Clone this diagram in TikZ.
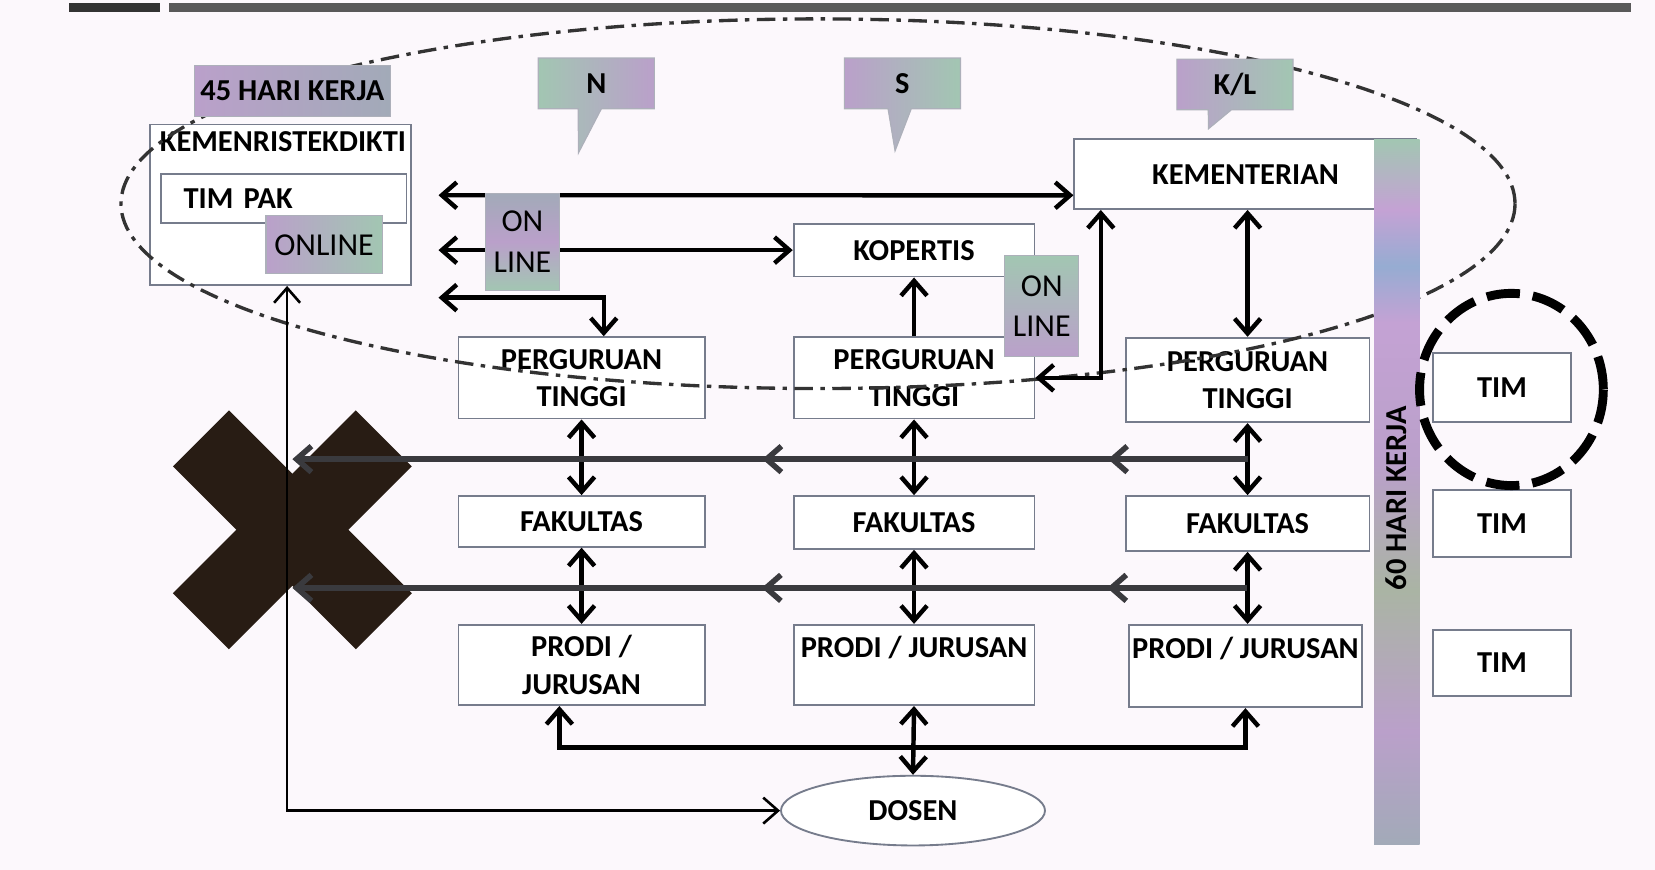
\documentclass[tikz,border=0pt]{standalone}
\usepackage{fontspec}
\setmainfont{Carlito}
\usetikzlibrary{arrows.meta,shapes.callouts,shapes.geometric,decorations.markings,calc}

\definecolor{paper}{RGB}{252,248,252}
\definecolor{edgegray}{RGB}{118,124,140}
\definecolor{tagpurple}{RGB}{186,160,202}
\definecolor{taggreen}{RGB}{162,198,178}
\definecolor{taggray}{RGB}{162,170,184}
\definecolor{barblue}{RGB}{150,172,210}
\definecolor{barpink}{RGB}{196,162,212}
\definecolor{barsage}{RGB}{170,180,164}
\definecolor{crossdark}{RGB}{40,28,20}
\definecolor{linkgray}{RGB}{58,58,62}

\pgfdeclareverticalshading{barshade}{100bp}{color(0bp)=(taggray); color(25bp)=(taggray); color(33bp)=(tagpurple); color(43bp)=(barsage); color(52bp)=(tagpurple); color(62bp)=(barpink); color(66bp)=(barblue); color(70bp)=(barpink); color(75bp)=(taggreen); color(100bp)=(taggreen)}

\newcommand\boxfont{\fontsize{8.2}{10}\selectfont\bfseries}
\newcommand\tagfont{\fontsize{8.6}{11}\selectfont}

\begin{document}
\begin{tikzpicture}[
    x=0.01cm, y=-0.01cm,
    >={Straight Barb[length=4pt,width=7pt]},
    box/.style={
        draw=edgegray,
        line width=0.5pt,
        fill=white,
        font=\boxfont,
        align=center,
        inner sep=0pt
    },
    tag/.style={
        draw=edgegray!60,
        line width=0.3pt,
        font=\tagfont,
        align=center,
        inner sep=0pt
    },
    callbox/.style={
        rectangle callout,
        draw=edgegray!60,
        line width=0.3pt,
        font=\boxfont,
        minimum width=1.1cm,
        minimum height=0.48cm,
        callout pointer width=0.22cm
    },
    crossarm/.style={fill=crossdark, minimum width=2.45cm, minimum height=0.75cm, inner sep=0pt},
    link/.style={line width=1.2pt},
    thinlink/.style={line width=0.7pt},
    backlink/.style={
        linkgray,
        line width=1.5pt,
        ->,
        postaction={decorate},
        decoration={markings,
            mark=at position 0.146 with {\arrow{>}},
            mark=at position 0.508 with {\arrow{>}}}
    }
]

\fill[paper] (0,0) rectangle (1568,824);
\useasboundingbox (0,0) rectangle (1568,824);
\fill[black!80] (65,3) rectangle (152,11);
\fill[black!65] (160,3) rectangle (1545,11);

\node[crossarm, rotate=45] (armA) at (277,502) {};
\node[crossarm, rotate=-45] (armB) at (277,502) {};
\coordinate (xmark) at (277,502);

\node[box, minimum width=2.47cm, minimum height=1.52cm] (kemen) at (266,194) {};
\node[font=\boxfont, inner sep=0pt] (kementitle) at (268,134) {KEMENRISTEKDIKTI};
\node[box, minimum width=2.32cm, minimum height=0.47cm, text width=1.9cm, align=left] (timpak) at (269,188) {TIM PAK};

\node[box, minimum width=3.24cm, minimum height=0.66cm] (kementerian) at (1180,165) {KEMENTERIAN};
\node[box, minimum width=2.28cm, minimum height=0.50cm] (kopertis) at (866,237) {KOPERTIS};

\node[box, minimum width=2.33cm, minimum height=0.77cm] (pt1) at (551,358) {PERGURUAN\\TINGGI};
\node[box, minimum width=2.28cm, minimum height=0.77cm] (pt2) at (866,358) {PERGURUAN\\TINGGI};
\node[box, minimum width=2.31cm, minimum height=0.80cm] (pt3) at (1182,360) {PERGURUAN\\TINGGI};

\node[box, minimum width=2.33cm, minimum height=0.48cm] (fak1) at (551,494) {FAKULTAS};
\node[box, minimum width=2.28cm, minimum height=0.50cm] (fak2) at (866,495) {FAKULTAS};
\node[box, minimum width=2.31cm, minimum height=0.52cm] (fak3) at (1182,496) {FAKULTAS};

\node[box, minimum width=2.33cm, minimum height=0.76cm] (prodi1) at (551,630) {PRODI /\\JURUSAN};
\node[box, minimum width=2.28cm, minimum height=0.76cm] (prodi2) at (866,630) {PRODI / JURUSAN\\ \mbox{}};
\node[box, minimum width=2.20cm, minimum height=0.78cm] (prodi3) at (1180,631) {PRODI / JURUSAN\\ \mbox{}};

\node[box, minimum width=1.30cm, minimum height=0.65cm] (tim1) at (1423,367) {TIM};
\node[box, minimum width=1.30cm, minimum height=0.63cm] (tim2) at (1423,496) {TIM};
\node[box, minimum width=1.30cm, minimum height=0.63cm] (tim3) at (1423,628) {TIM};

\node[box, ellipse, minimum width=2.5cm, minimum height=0.66cm] (dosen) at (865,768) {DOSEN};

\draw[black!80, line width=0.9pt, dash pattern=on 5pt off 2pt on 1.2pt off 2pt]
    (775,193) ellipse [x radius=6.6cm, y radius=1.75cm];

\draw[link,<->] ([shift={(25,-9)}]kemen.east) -- ([yshift=-0.2cm]kementerian.west);
\draw[link,<->] ([shift={(25,43)}]kemen.east) -- (kopertis.west);
\draw[link,<->] ([shift={(25,88)}]kemen.east) -| ([xshift=0.21cm]pt1.north);
\draw[link,->] (pt2.north) -- (kopertis.south);
\draw[link,<->] (pt2.east) -| ([xshift=-1.37cm]kementerian.south);
\draw[link,<->] (pt3.north |- kementerian.south) -- (pt3.north);

\path[link,<->]
    (pt1) edge (fak1)
    (fak1) edge (prodi1)
    (pt2) edge (fak2)
    (fak2) edge (prodi2)
    (pt3) edge (fak3)
    (fak3.south) edge (fak3.south |- prodi3.north);

\coordinate (row1) at ($(pt3.south)!0.5!(fak3.north)$);
\coordinate (row2) at ($(fak3.south)!0.5!(prodi3.north)$);
\draw[backlink] (row1) -- (row1 -| xmark);
\draw[backlink] (row2) -- (row2 -| xmark);

\draw[thinlink,<->] ([xshift=0.06cm]kemen.south) |- (dosen.west);

\coordinate (bus) at (866,708);
\draw[link,<->] ([xshift=-0.21cm]prodi1.south) |- (bus) -| (prodi3.south);
\draw[link,<->] (prodi2.south) -- (dosen.north);

\node[tag, minimum width=0.70cm, minimum height=0.92cm, top color=taggray, bottom color=taggreen, middle color=tagpurple] (online1) at (495,229) {ON\\LINE};
\node[tag, minimum width=0.70cm, minimum height=0.95cm, top color=taggreen, bottom color=tagpurple] (online2) at (987,290) {ON\\LINE};
\node[tag, minimum width=1.10cm, minimum height=0.55cm, left color=tagpurple, right color=taggreen] (online0) at (307,232) {ONLINE};
\node[tag, font=\boxfont, minimum width=1.85cm, minimum height=0.48cm, left color=tagpurple, right color=taggray] (hari45) at (277,86) {45 HARI KERJA};

\node[callbox, left color=taggreen, right color=tagpurple, callout absolute pointer={(548,145)}] (calln) at (565,79) {N};
\node[callbox, left color=tagpurple, right color=taggreen, callout absolute pointer={(848,143)}] (calls) at (855,79) {S};
\node[callbox, left color=tagpurple, right color=taggreen, callout absolute pointer={(1145,122)}] (callkl) at (1170,80) {K/L};

\shade[shading=barshade] (1302,132) rectangle (1345,800);
\node[font=\boxfont, rotate=90, inner sep=0pt] (hari60) at (1323,472) {60 HARI KERJA};

\draw[line width=2.4pt, dash pattern=on 9pt off 3.5pt] (1432,369) ellipse [x radius=0.87cm, y radius=0.91cm];

\end{tikzpicture}
\end{document}
